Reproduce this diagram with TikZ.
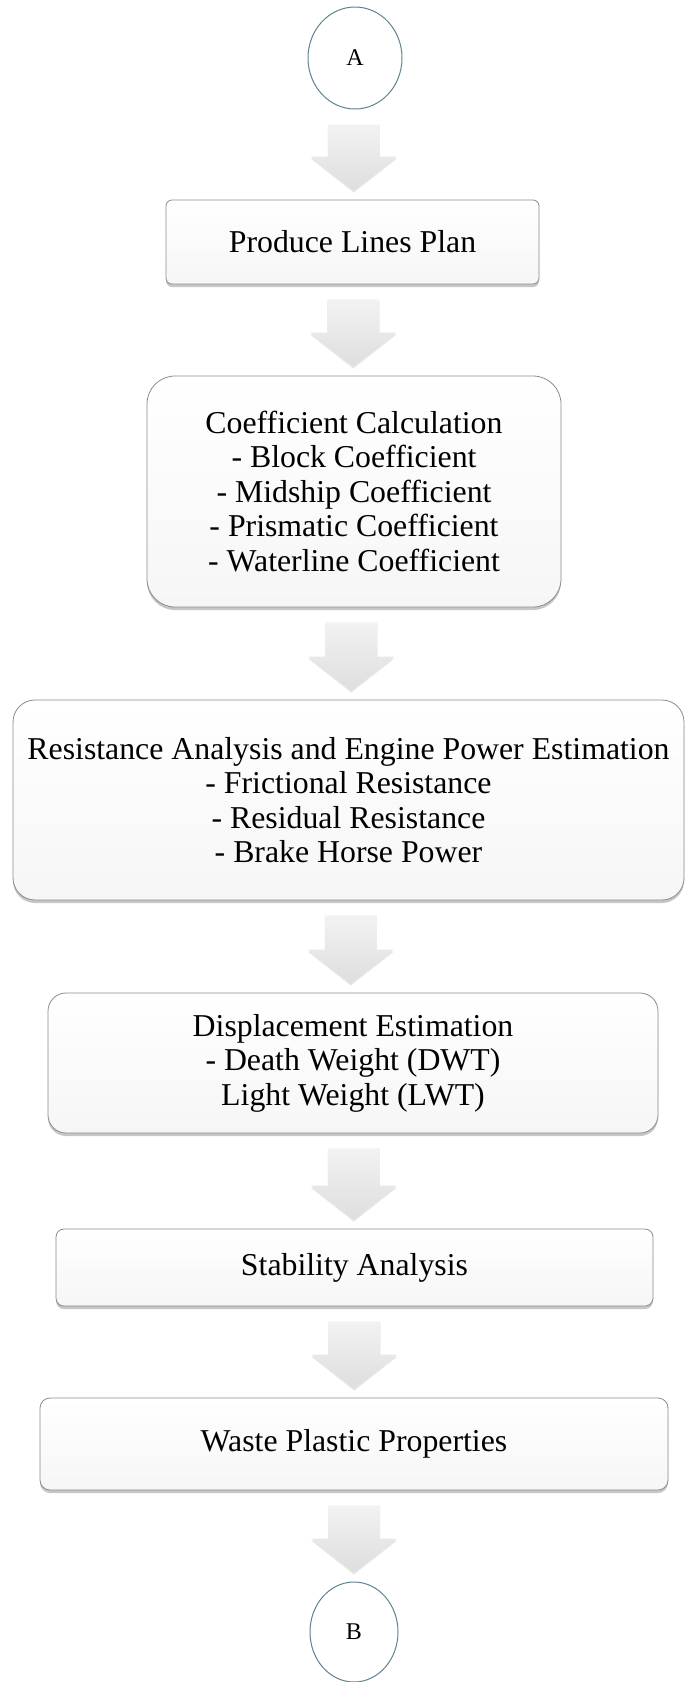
\documentclass[tikz,border=0pt]{standalone}
\usepackage{fontspec}
\setmainfont{Liberation Serif}
\usetikzlibrary{shadows,calc,shapes.geometric}
\definecolor{boxborder}{HTML}{8C8C8C}
\definecolor{circborder}{HTML}{5F8390}
\tikzset{
  stepbox/.style={draw=boxborder, line width=0.8pt, top color=white, bottom color=gray!7,
    drop shadow={shadow xshift=0pt, shadow yshift=-3pt, opacity=0.45},
    inner sep=0pt, align=center, font=\fontsize{31.8}{34.5}\selectfont},
  connector/.style={ellipse, draw=circborder, line width=1pt, fill=white, inner sep=0pt,
    font=\fontsize{24}{28}\selectfont},
  blockarr/.style={top color=gray!10, bottom color=gray!26, draw=none,
    drop shadow={shadow xshift=0pt, shadow yshift=-2pt, opacity=0.2}},
}
\newcommand\blockarrow[2]{%
  \path[blockarr] let \p1=(#1.south), \p2=(#2.north), \n1={(\x1+\x2)/2} in
    (\n1-26pt,\y1-15pt) -- (\n1+26pt,\y1-15pt) -- (\n1+26pt,\y2+43pt) --
    (\n1+43pt,\y2+43pt) -- (\n1,\y2+9pt) -- (\n1-43pt,\y2+43pt) --
    (\n1-26pt,\y2+43pt) -- cycle;}
\begin{document}
\begin{tikzpicture}[x=1pt,y=-1pt]
\useasboundingbox (0,0) rectangle (687,1682);
\node[connector, minimum width=94pt, minimum height=102pt] (A) at (355,58) {A};
\node[stepbox, rounded corners=6pt, minimum width=373pt, minimum height=84pt] (b1) at (352.5,242) {Produce Lines Plan};
\node[stepbox, rounded corners=28pt, minimum width=414pt, minimum height=231pt] (b2) at (354,491.5)
  {Coefficient Calculation\\- Block Coefficient\\- Midship Coefficient\\- Prismatic Coefficient\\- Waterline Coefficient};
\node[stepbox, rounded corners=22pt, minimum width=671pt, minimum height=200pt] (b3) at (348.5,800)
  {Resistance Analysis and Engine Power Estimation\\- Frictional Resistance\\- Residual Resistance\\- Brake Horse Power};
\node[stepbox, rounded corners=18pt, minimum width=610pt, minimum height=140pt] (b4) at (353,1063)
  {Displacement Estimation\\- Death Weight (DWT)\\Light Weight (LWT)};
\node[stepbox, rounded corners=8pt, minimum width=597pt, minimum height=77pt] (b5) at (354.5,1267.5) {Stability Analysis};
\node[stepbox, rounded corners=10pt, minimum width=628pt, minimum height=92pt] (b6) at (354,1444) {Waste Plastic Properties};
\node[connector, minimum width=88pt, minimum height=100pt] (B) at (354,1632) {B};
\blockarrow{A}{b1}
\blockarrow{b1}{b2}
\blockarrow{b2}{b3}
\blockarrow{b3}{b4}
\blockarrow{b4}{b5}
\blockarrow{b5}{b6}
\blockarrow{b6}{B}
\end{tikzpicture}
\end{document}
